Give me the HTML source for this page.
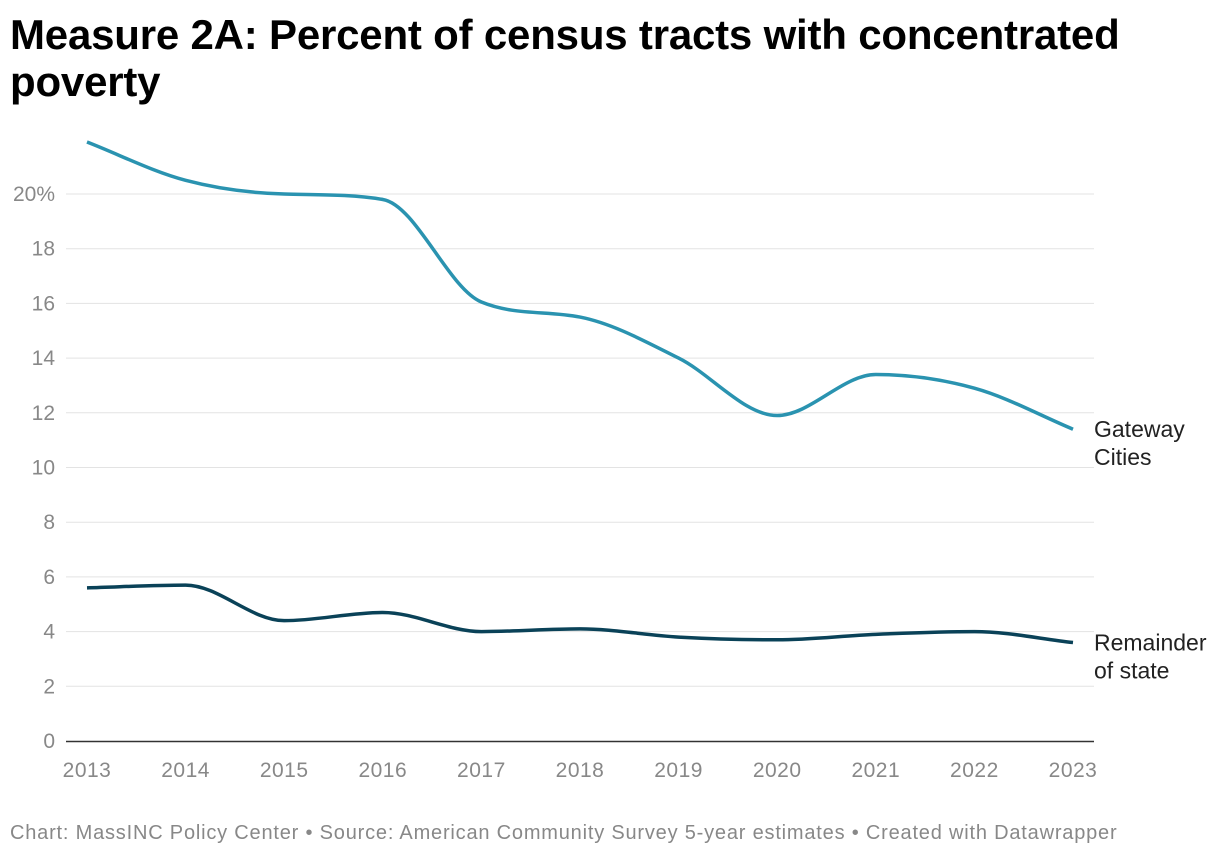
<!DOCTYPE html>
<html><head><meta charset="utf-8"><style>
body{margin:0;width:1220px;height:858px;background:#fff;font-family:"Liberation Sans",Roboto,sans-serif;overflow:hidden}
h1{position:absolute;left:10px;top:11px;margin:0;font-size:42px;line-height:47px;font-weight:700;color:#000;width:1130px;letter-spacing:-0.2px}
.foot{position:absolute;left:10px;top:822px;font-size:20px;color:#888;letter-spacing:0.8px;white-space:nowrap}
</style></head><body>
<h1>Measure 2A: Percent of census tracts with concentrated poverty</h1>
<svg id="chart" width="1220" height="858" style="position:absolute;left:0;top:0"></svg>
<div class="foot">Chart: MassINC Policy Center • Source: American Community Survey 5-year estimates • Created with Datawrapper</div>
<script>
const years=[2013,2014,2015,2016,2017,2018,2019,2020,2021,2022,2023];
const gateway=[21.9,20.5,20.0,19.8,16.05,15.5,14.0,11.9,13.4,12.9,11.4];
const remainder=[5.6,5.7,4.4,4.7,4.0,4.1,3.8,3.7,3.9,4.0,3.6];
const yTicks=[0,2,4,6,8,10,12,14,16,18,20];
const yTickLabels=["0","2","4","6","8","10","12","14","16","18","20%"];
const NS="http://www.w3.org/2000/svg";
const svg=document.getElementById('chart');
const x=i=>87+(1073-87)*(years[i]-years[0])/(years[years.length-1]-years[0]);
const y=v=>741-v*(741-194)/20;
function mk(t,a){const e=document.createElementNS(NS,t);for(const k in a)e.setAttribute(k,a[k]);svg.appendChild(e);return e;}
yTicks.forEach((t,i)=>{
 if(t>0){const g=mk('line',{x1:66,x2:1094,y1:y(t),y2:y(t),stroke:'#e3e3e3','stroke-width':1});
 
 }
 const l=mk('text',{x:55,y:y(t)+7,'text-anchor':'end','font-size':21,fill:'#888','font-family':'Liberation Sans, sans-serif'});
 l.textContent=yTickLabels[i];
 
 
});
const ax=mk('line',{x1:66,x2:1094,y1:741.5,y2:741.5,stroke:'#333','stroke-width':1.5});


years.forEach((yr,i)=>{
 const l=mk('text',{x:x(i),y:777,'text-anchor':'middle','font-size':21,fill:'#888','font-family':'Liberation Sans, sans-serif','letter-spacing':'0.5'});
 l.textContent=yr;
 
 
});
function path(vals){
 const n=vals.length,px=vals.map((_,i)=>x(i)),py=vals.map(v=>y(v));
 const d=[],m=[];
 for(let i=0;i<n-1;i++)d.push((py[i+1]-py[i])/(px[i+1]-px[i]));
 m[0]=d[0];m[n-1]=d[n-2];
 for(let i=1;i<n-1;i++)m[i]=d[i-1]*d[i]<=0?0:(d[i-1]+d[i])/2;
 for(let i=0;i<n-1;i++){if(d[i]===0){m[i]=m[i+1]=0;continue;}const a=m[i]/d[i],b=m[i+1]/d[i],s=a*a+b*b;if(s>9){const t=3/Math.sqrt(s);m[i]=t*a*d[i];m[i+1]=t*b*d[i];}}
 let s=`M${px[0]},${py[0]}`;
 for(let i=0;i<n-1;i++){const h=(px[i+1]-px[i])/3;s+=`C${px[i]+h},${py[i]+m[i]*h} ${px[i+1]-h},${py[i+1]-m[i+1]*h} ${px[i+1]},${py[i+1]}`;}
 return s;
}
const g1=mk('path',{d:path(gateway),fill:'none',stroke:'#2a93b0','stroke-width':3.5});


const g2=mk('path',{d:path(remainder),fill:'none',stroke:'#0a4258','stroke-width':3.5});


function lab(lines,v,name){
 lines.forEach((t,i)=>{const e=mk('text',{x:1094,y:y(v)+8+i*28,'font-size':23,fill:'#222','font-family':'Liberation Sans, sans-serif'});e.textContent=t;
 
 });
}
lab(["Gateway","Cities"],gateway[gateway.length-1],'gateway-cities-label');
lab(["Remainder","of state"],remainder[remainder.length-1],'remainder-label');
</script>
</body></html>
